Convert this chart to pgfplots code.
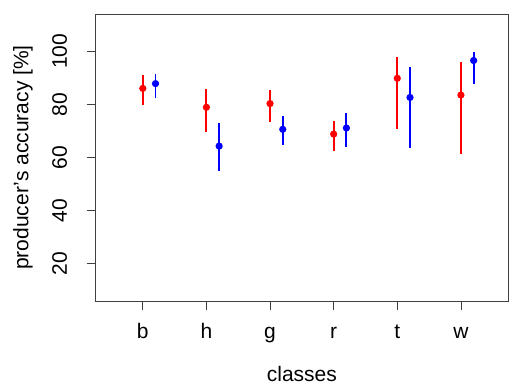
\documentclass[border=0pt]{standalone}
\usepackage{fontspec}
\setmainfont{Liberation Sans}
\usepackage{pgfplots}
\pgfplotsset{compat=1.18}
\usepackage{pgfplotstable}
\pgfplotstableread{
x y ep em
1 86.0 4.9 6.4
2 78.9 7.0 9.2
3 80.3 5.2 6.8
4 68.8 5.0 6.2
5 89.8 8.2 18.9
6 83.5 12.5 22.1
}\redtab
\pgfplotstableread{
x y ep em
1.2 87.8 3.7 5.5
2.2 64.3 8.7 9.2
3.2 70.6 4.9 5.9
4.2 71.1 5.7 7.2
5.2 82.6 11.6 19.1
6.2 96.5 3.1 8.8
}\bluetab
\begin{document}
\begin{tikzpicture}
\path[use as bounding box] (-95.7bp,-85bp) rectangle (413.3bp,301bp);
\begin{axis}[
  scale only axis,
  width=412.3bp, height=287bp,
  xmin=0.26, xmax=6.74, ymin=6, ymax=114,
  xtick={1,2,3,4,5,6},
  xticklabels={b,h,g,r,t,w},
  ytick={20,40,60,80,100},
  tick pos=left,
  tick align=outside,
  major tick length=9bp,
  tick style={black!75, line width=0.8pt},
  axis line style={black!75, line width=0.8pt},
  /pgf/number format/assume math mode=true,
  every tick label/.append style={font=\fontsize{21bp}{25bp}\selectfont},
  y tick label style={rotate=90, anchor=base},
  yticklabel shift=19.7bp,
  x tick label style={anchor=base},
  xticklabel shift=28bp,
  label style={font=\fontsize{21bp}{25bp}\selectfont},
  xlabel={classes},
  ylabel={producer's accuracy [\%]},
  xlabel style={at={(axis description cs:0.5,-0.2822)}, anchor=base},
  ylabel style={at={(axis description cs:-0.163,0.5)}, anchor=base, rotate=0},
  clip=false,
]
\addplot[red, line width=1.9bp, mark=*, mark size=2.6bp, only marks,
  error bars/.cd, y dir=both, y explicit, error mark=none,
  error bar style={draw=red, line width=1.9bp}]
  table[x=x, y=y, y error plus=ep, y error minus=em] {\redtab};
\addplot[blue, line width=1.9bp, mark=*, mark size=2.6bp, only marks,
  error bars/.cd, y dir=both, y explicit, error mark=none,
  error bar style={draw=blue, line width=1.9bp}]
  table[x=x, y=y, y error plus=ep, y error minus=em] {\bluetab};
\end{axis}
\end{tikzpicture}
\end{document}
